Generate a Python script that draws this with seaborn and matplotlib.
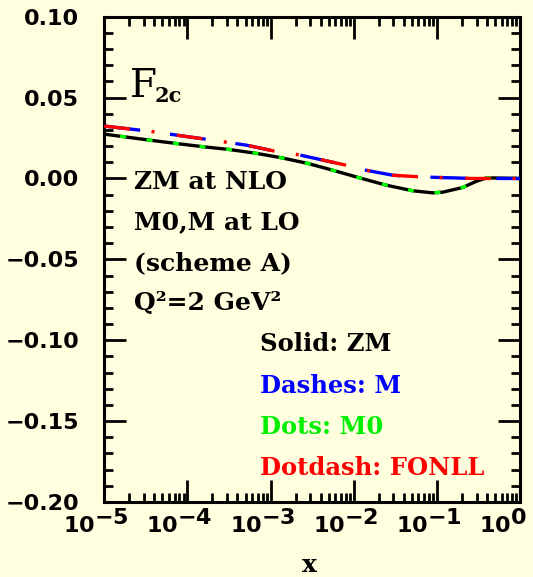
import numpy as np
import pandas as pd
import matplotlib
matplotlib.use("Agg")
import matplotlib.pyplot as plt
import matplotlib.ticker as mticker
from matplotlib.transforms import ScaledTranslation
import seaborn as sns

# full-size exponents on the decade labels
try:
    import matplotlib._mathtext as _mt
    _mt.SHRINK_FACTOR = 1.0
except Exception:
    pass

# ---- data -------------------------------------------------------------
x_zm = [1e-5, 3.5e-5, 7.4e-5, 1.55e-4, 3.2e-4, 6.8e-4, 1.35e-3, 2.8e-3,
        5.6e-3, 0.0117, 0.0245, 0.051, 0.089, 0.117, 0.204, 0.30, 0.40,
        0.63, 1.0]
f2c_zm = [0.0274, 0.0237, 0.0216, 0.0196, 0.0179, 0.0155, 0.0128, 0.0093,
          0.0051, 0.0004, -0.0041, -0.0076, -0.0089, -0.0085, -0.0056,
          -0.0017, 0.0004, 0.0002, 0.0]
f2c_m0 = [0.0274, 0.0237, 0.0216, 0.0196, 0.0179, 0.0155, 0.0128, 0.0093,
          0.0051, 0.0004, -0.0041, -0.0076, -0.0089, -0.0085, -0.0056,
          -0.0017, 0.0004, 0.0002, 0.0]

x_m = [1e-5, 3.9e-5, 8.1e-5, 2.0e-4, 5.1e-4, 1.07e-3, 2.2e-3, 8.1e-3,
       0.014, 0.0295, 0.062, 0.107, 0.174, 0.27, 1.0]
f2c_m = [0.0324, 0.0289, 0.0265, 0.0237, 0.0206, 0.0171, 0.0146, 0.0082,
         0.0051, 0.0020, 0.0010, 0.0006, 0.0003, 0.0, 0.0]
f2c_fonll = [0.0324, 0.0289, 0.0265, 0.0237, 0.0206, 0.0171, 0.0146, 0.0082,
             0.0051, 0.0020, 0.0010, 0.0006, 0.0003, 0.0, 0.0]

x_ticks = [1e-5, 1e-4, 1e-3, 1e-2, 1e-1, 1e0]
x_tick_labels = [r"$10{}^{-5}$", r"$10{}^{-4}$", r"$10{}^{-3}$",
                 r"$10{}^{-2}$", r"$10{}^{-1}$", r"$10{}^{0}$"]
y_ticks = [-0.20, -0.15, -0.10, -0.05, 0.00, 0.05, 0.10]

note_lines = ["ZM at NLO", "M0,M at LO", "(scheme A)", "Q\u00b2=2 GeV\u00b2"]
key_lines = ["Solid: ZM", "Dashes: M", "Dots: M0", "Dotdash: FONLL"]

# ---- style ------------------------------------------------------------
BG = "#FFFFE0"
sns.set_style("ticks")
plt.rcParams.update({
    "font.family": ["DejaVu Sans"],
    "mathtext.fontset": "dejavusans",
    "mathtext.default": "bf",
    "lines.scale_dashes": False,
    "axes.facecolor": BG,
    "figure.facecolor": BG,
    "savefig.facecolor": BG,
    "axes.edgecolor": "black",
    "xtick.color": "black",
    "ytick.color": "black",
    "xtick.labelcolor": "black",
    "ytick.labelcolor": "black",
    "text.color": "black",
})

fig = plt.figure(figsize=(5.33, 5.77), dpi=100)
ax = fig.add_axes([104.3 / 533, 1 - 502 / 577, 415.7 / 533, 485.3 / 577])
ax.set_facecolor(BG)

zm = pd.DataFrame({"x": x_zm, "ZM": f2c_zm, "M0": f2c_m0})
mm = pd.DataFrame({"x": x_m, "M": f2c_m, "FONLL": f2c_fonll})

lw = 2.4
sns.lineplot(data=zm, x="x", y="ZM", ax=ax, color="black", lw=lw,
             linestyle="-", zorder=2)
sns.lineplot(data=zm, x="x", y="M0", ax=ax, color="#00FF00", lw=lw,
             linestyle=(7.7, (4.3, 14.9)), zorder=3)
sns.lineplot(data=mm, x="x", y="M", ax=ax, color="#0000FF", lw=lw,
             linestyle=(0, (26, 21.6)), zorder=4)
sns.lineplot(data=mm, x="x", y="FONLL", ax=ax, color="#FF0000", lw=lw,
             linestyle=(0, (18.7, 15.5, 2.2, 16.2)), zorder=5)

ax.set_xscale("log")
ax.set_xlim(1e-5, 1.0)
ax.set_ylim(-0.20, 0.10)

ax.set_xticks(x_ticks)
ax.set_xticklabels(x_tick_labels)
ax.xaxis.set_minor_locator(mticker.LogLocator(base=10, subs=np.arange(2, 10)))
ax.xaxis.set_minor_formatter(mticker.NullFormatter())
ax.set_yticks(y_ticks)
ax.yaxis.set_major_formatter(mticker.FuncFormatter(
    lambda v, p: f"{v:.2f}".replace("-", "\u2212")))
ax.yaxis.set_minor_locator(mticker.MultipleLocator(0.01))

for s in ax.spines.values():
    s.set_linewidth(2.2)
    s.set_edgecolor("black")
    s.set_visible(True)
ax.tick_params(which="both", direction="in", top=True, right=True, width=2,
               color="black", labelcolor="black")
ax.tick_params(which="major", length=16)
ax.tick_params(which="minor", length=6.5)
ax.tick_params(axis="y", which="major", pad=18, labelsize=16)
ax.tick_params(axis="x", which="major", pad=22, labelsize=16)
for lab in ax.get_yticklabels():
    lab.set_fontweight("bold")

shift = ScaledTranslation(-41 / 100, 0, fig.dpi_scale_trans)
for tick in ax.xaxis.get_major_ticks():
    tick.label1.set_horizontalalignment("left")
    tick.label1.set_verticalalignment("baseline")
    tick.label1.set_transform(tick.label1.get_transform() + shift)

ax.set_xlabel("")
ax.set_ylabel("")
fig.text(310 / 533, 1 - 565 / 577, "x", ha="center", va="center",
         family="DejaVu Serif", weight="bold", fontsize=18, color="black")

# ---- annotations ------------------------------------------------------
serif = dict(family="DejaVu Serif", transform=ax.transAxes,
             va="baseline", ha="left")
ax.text(0.062, 0.835, "F", fontsize=28, weight="normal", color="black",
        **serif)
ax.text(0.122, 0.825, "2c", fontsize=15, weight="bold", color="black",
        **serif)

for txt, yb in zip(note_lines, [0.644, 0.5615, 0.478, 0.395]):
    ax.text(0.071, yb, txt, fontsize=18, weight="bold", color="black",
            **serif)

for txt, col, yb in zip(key_lines, ["black", "#0000FF", "#00EE00", "#FF0000"],
                        [0.311, 0.2246, 0.140, 0.0556]):
    ax.text(0.374, yb, txt, fontsize=17.5, weight="bold", color=col, **serif)

if ax.get_legend() is not None:
    ax.get_legend().remove()

fig.savefig("out.png", dpi=100)
